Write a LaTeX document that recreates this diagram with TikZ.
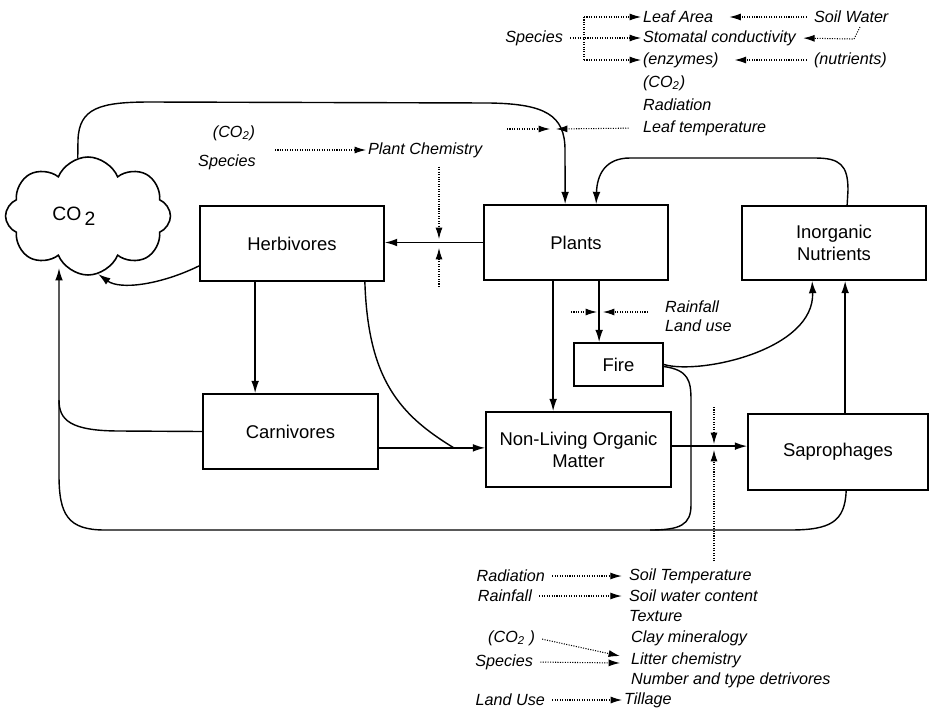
\documentclass[tikz,border=0pt]{standalone}
\usepackage{fontspec}
\setmainfont{Liberation Sans}
\usetikzlibrary{arrows.meta, calc, positioning, shapes.symbols}

\begin{document}
\begin{tikzpicture}[x=0.02cm, y=-0.02cm,
	box/.style={draw, line width=1pt, align=center, font=\fontsize{10.5}{12.5}\selectfont},
	lbl/.style={font=\fontsize{9.2}{11}\selectfont\itshape, inner sep=1pt, anchor=west},
	flow/.style={line width=0.8pt, -{Latex[length=7pt,width=4.4pt]}},
	link/.style={line width=0.8pt},
	dots/.style={line width=0.6pt, dash pattern=on 0.6pt off 0.8pt},
	dotarrow/.style={dots, -{Latex[length=6.5pt,width=4pt]}}]
	
	\useasboundingbox (0,0) rectangle (930,711);
	
	% compartments
	\node[cloud, draw, line width=0.9pt, cloud puffs=8, cloud puff arc=135, aspect=1.4,
		minimum width=3.3cm, minimum height=2.36cm, inner sep=0pt,
		font=\fontsize{11}{13}\selectfont] (co2) at (88,216) {CO\,\raisebox{-0.45ex}{2}\hspace*{16pt}};
	\node[box, minimum width=3.68cm, minimum height=1.5cm] (herb) at (292,243.5) {Herbivores};
	\node[box, minimum width=3.68cm, minimum height=1.5cm] (plants) at (576,242.5) {Plants};
	\node[box, minimum width=3.68cm, minimum height=1.48cm] (inorg) at (834,243) {Inorganic\\Nutrients};
	\node[box, minimum width=1.78cm, minimum height=0.86cm] (fire) at (618.5,364.5) {Fire};
	\node[box, minimum width=3.5cm, minimum height=1.5cm] (carn) at (290.5,431.5) {Carnivores};
	\node[box, minimum width=3.7cm, minimum height=1.5cm] (nlom) at (578.5,449.5) {Non-Living Organic\\Matter};
	\node[box, minimum width=3.6cm, minimum height=1.52cm] (sapro) at (838,452) {Saprophages};
	
	% controls on photosynthesis
	\node[lbl] (leaf) at (641,17) {Leaf Area};
	\node[lbl] (stom) at (641,38) {Stomatal conductivity};
	\node[lbl] (enz) at (641,60) {(enzymes)};
	\node[lbl] (lco2) at (641,83) {(CO\textsubscript{2})};
	\node[lbl] (lrad) at (641,105) {Radiation};
	\node[lbl] (ltemp) at (641,128) {Leaf temperature};
	\node[lbl, anchor=east] (lspec) at (565,38) {Species};
	\node[lbl] (sw) at (812,17) {Soil Water};
	\node[lbl] (nut) at (812,60) {(nutrients)};
	
	\coordinate (brk) at (584,38);
	\draw[dots] (brk |- leaf.west) -- (brk |- enz.west);
	\draw[dotarrow, shorten <=3pt] (lspec.east) -- (stom.west);
	\draw[dotarrow] (brk |- leaf.west) -- (leaf.west);
	\draw[dotarrow] (brk |- enz.west) -- (enz.west);
	\draw[dotarrow, shorten >=8pt, shorten <=3pt] (sw.west) -- (leaf.east);
	\draw[dotarrow, shorten >=3pt] ($(sw.south west)+(48,2)$) -- ($(sw.south west)+(42,14)$) -- (stom.east);
	\draw[dotarrow, shorten >=8pt, shorten <=3pt] (nut.west) -- (enz.east);
	
	\coordinate (lt) at (553,129);
	\coordinate (ltL) at (507,129);
	\draw[dotarrow] (ltL) -- ($(lt)+(-3,0)$);
	\draw[dotarrow, shorten <=7pt] (ltemp.west) -- ($(lt)+(3,0)$);
	
	% controls on herbivory
	\node[lbl] (pchem) at (366,150) {Plant Chemistry};
	\node[lbl, anchor=center] (pco2) at (234,133) {(CO\textsubscript{2})};
	\node[lbl, anchor=center] (pspec) at (227,162) {Species};
	\coordinate (pc0) at (275,150);
	\draw[dotarrow] (pc0) -- (pchem.west);
	\coordinate (pc) at (439,243);
	\draw[dotarrow, shorten <=4pt] (pchem.south -| pc) -- ($(pc)+(0,-4)$);
	\draw[dotarrow] ($(pc)+(0,44)$) -- ($(pc)+(0,5)$);
	
	% controls on fire
	\node[lbl, align=left] (rain) at (663,316) {Rainfall\\Land use};
	\coordinate (rf) at (600,312);
	\draw[dotarrow] ($(rf)+(-29,0)$) -- ($(rf)+(-3,0)$);
	\draw[dotarrow] ($(rf)+(48,0)$) -- ($(rf)+(3,0)$);
	
	% controls on decomposition
	\node[lbl] (soilT) at (627,576) {Soil Temperature};
	\node[lbl] (swc) at (627,596) {Soil water content};
	\node[lbl] (tex) at (627,616) {Texture};
	\node[lbl] (clay) at (629,638) {Clay mineralogy};
	\node[lbl] (litter) at (629,660) {Litter chemistry};
	\node[lbl] (ndet) at (629,680) {Number and type detrivores};
	\node[lbl] (till) at (622,700) {Tillage};
	\node[lbl, anchor=east] (brad) at (547,576) {Radiation};
	\node[lbl, anchor=east] (brain) at (534,596) {Rainfall};
	\node[lbl, anchor=east] (bco2) at (537,638) {(CO\textsubscript{2} )};
	\node[lbl, anchor=east] (bspec) at (535,662) {Species};
	\node[lbl, anchor=east] (bland) at (547,700) {Land Use};
	\draw[dotarrow, shorten <=3pt, shorten >=3pt] (brad.east) -- (soilT.west);
	\draw[dotarrow, shorten <=3pt, shorten >=3pt] (brain.east) -- (swc.west);
	\draw[dotarrow, shorten <=3pt] (bco2.east) -- ($(litter.west)+(-9,-4)$);
	\draw[dotarrow, shorten <=3pt] (bspec.east) -- ($(litter.west)+(-9,3)$);
	\draw[dotarrow, shorten <=3pt] (bland.east) -- (till.west);
	
	\coordinate (ns) at (714,447);
	\draw[dotarrow] ($(ns)+(0,-40)$) -- ($(ns)+(0,-3)$);
	\draw[dotarrow, shorten <=3pt] (soilT.north -| ns) -- ($(ns)+(0,3)$);
	
	% fluxes
	\draw[flow] (plants.west) -- (plants.west -| herb.east);
	\draw[flow] ($(herb.south west)+(56,0)$) coordinate (hc) -- (hc |- carn.north);
	\draw[flow] ($(plants.south west)+(70,0)$) coordinate (pn) -- (pn |- nlom.north);
	\draw[flow] ($(plants.south west)+(116,0)$) coordinate (pf) -- (pf |- fire.north);
	\draw[flow] ($(carn.south east)+(0,-22)$) coordinate (cn) -- (cn -| nlom.west);
	\draw[link] ($(herb.south east)+(-20,0)$) .. controls (368,380) and (400,415) .. ($(cn)+(75,0)$);
	\draw[flow] ($(nlom.north east)+(0,35)$) coordinate (nsp) -- (nsp -| sapro.west);
	\draw[flow] ($(sapro.north west)+(98,0)$) coordinate (si) -- (si |- inorg.south);
	\draw[flow] (fire.east) .. controls (700,375) and (815,350) .. ($(inorg.south west)+(71,0)$);
	\draw[flow] ($(inorg.north west)+(106,0)$) -- (848,190) .. controls (848,165) and (840,158) .. (815,158)
		-- (630,158) .. controls (605,158) and (597,175) .. ($(plants.north west)+(113,0)$);
	\draw[flow] (co2.100) -- (78,140) .. controls (79,108) and (100,102) .. (150,102) -- (490,103)
		.. controls (545,104) and (565,115) .. (565,150) -- ($(plants.north west)+(82,0)$);
	
	% respiration
	\coordinate (trunk) at (59,400);
	\draw[flow] ($(herb.south west)+(0,-16)$) .. controls (160,285) and (120,290) .. (co2.-80);
	\draw[flow] ($(sapro.south west)+(99,0)$) .. controls (845,522) and (830,530) .. (790,530) -- (105,530)
		.. controls (68,530) and (59,515) .. (59,475) -- (trunk |- co2.-112);
	\draw[link] (carn.west) -- (120,431) .. controls (70,431) and (59,420) .. (trunk);
	\draw[link] ($(fire.east)+(0,2)$) .. controls (688,370) and (691,380) .. (691,400) -- (691,505)
		.. controls (691,525) and (680,530) .. (650,530);
\end{tikzpicture}
\end{document}
